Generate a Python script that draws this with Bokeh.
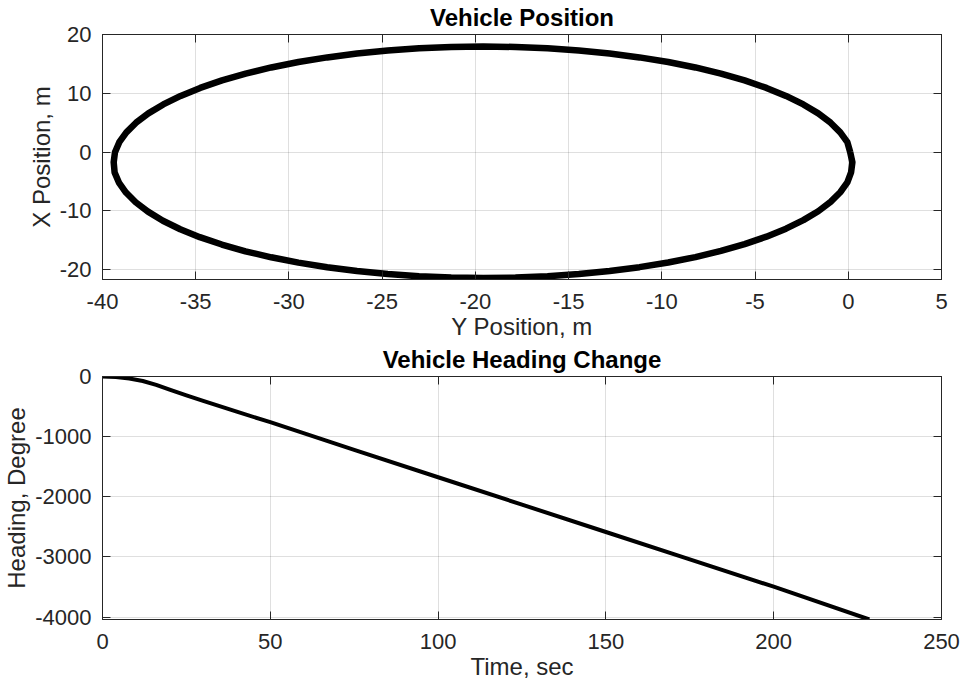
from bokeh.plotting import figure
from bokeh.layouts import column
from bokeh.models import (LinearAxis, SingleIntervalTicker, CustomJSTickFormatter, Range1d,
                          CustomLabelingPolicy)
from bokeh.embed import file_html
from bokeh.resources import INLINE

# Vehicle position: Y position (east, m) and X position (north, m)
pos_y = [0.1, -0.05, -0.43, -0.95, -1.61, -2.41, -3.34, -4.39, -5.56, -6.83, -8.2, -9.66,
         -11.2, -12.8, -14.45, -16.13, -17.85, -19.58, -21.3, -23.02, -24.7, -26.35,
         -27.95, -29.49, -30.95, -32.32, -33.59, -34.76, -35.81, -36.74, -37.54, -38.2,
         -38.72, -39.1, -39.33, -39.4, -39.35, -39.12, -38.74, -38.22, -37.56, -36.76,
         -35.83, -34.78, -33.6, -32.33, -30.95, -29.49, -27.95, -26.35, -24.7, -23.02,
         -21.3, -19.58, -17.85, -16.13, -14.45, -12.8, -11.2, -9.66, -8.2, -6.83, -5.56,
         -4.39, -3.34, -2.41, -1.61, -0.95, -0.43, -0.05, 0.15, 0.22, 0.1]
pos_x = [0.0, 1.67, 3.35, 4.99, 6.58, 8.1, 9.55, 10.91, 12.18, 13.34, 14.39, 15.31,
         16.1, 16.76, 17.28, 17.65, 17.88, 17.95, 17.88, 17.65, 17.28, 16.76, 16.1,
         15.31, 14.39, 13.34, 12.18, 10.91, 9.55, 8.1, 6.58, 4.99, 3.35, 1.67, -0.03,
         -1.75, -3.47, -5.2, -6.9, -8.55, -10.15, -11.7, -13.15, -14.5, -15.75, -16.9,
         -17.92, -18.83, -19.62, -20.27, -20.78, -21.15, -21.38, -21.45, -21.38, -21.15,
         -20.78, -20.26, -19.6, -18.81, -17.89, -16.84, -15.68, -14.41, -13.05, -11.6,
         -10.08, -8.49, -6.85, -5.17, -3.47, -1.75, 0.0]

# Vehicle heading change
time_s = [0, 4, 8, 12, 16, 20, 25, 30, 40, 50, 75, 100, 125, 150, 175, 200, 228.5]
heading_deg = [0, -8, -32, -75, -140, -220, -315, -405, -585, -760, -1220, -1675,
               -2130, -2585, -3040, -3495, -4040]

titles = ["Vehicle Position", "Vehicle Heading Change"]

FONT = "Liberation Sans"
AX = "#262626"

fmt = CustomJSTickFormatter(code="return Math.round(tick).toString();")
hide_all = "for (const i of indices) indices.unset(i); return indices"


def style(p, xint, yint, xlabel, ylabel, title):
    p.xaxis.ticker = SingleIntervalTicker(interval=xint)
    p.yaxis.ticker = SingleIntervalTicker(interval=yint)
    p.xaxis.axis_label = xlabel
    p.yaxis.axis_label = ylabel
    for ax in [p.xaxis[0], p.yaxis[0]]:
        ax.formatter = fmt
        ax.major_label_text_font = FONT
        ax.major_label_text_font_size = "22px"
        ax.major_label_text_color = AX
        ax.axis_label_text_font = FONT
        ax.axis_label_text_font_size = "24px"
        ax.axis_label_text_font_style = "normal"
        ax.axis_label_text_color = AX
        ax.axis_line_color = AX
        ax.major_tick_line_color = AX
        ax.major_tick_in = 8
        ax.major_tick_out = 0
        ax.minor_tick_line_color = None
    p.xaxis.major_label_standoff = 10
    p.xaxis.axis_label_standoff = 1
    p.yaxis.major_label_standoff = 7
    p.yaxis.axis_label_standoff = 2
    for loc, tick in (("above", xint), ("right", yint)):
        ax = LinearAxis(ticker=SingleIntervalTicker(interval=tick),
                        major_label_policy=CustomLabelingPolicy(code=hide_all),
                        major_label_text_font_size="0px",
                        major_label_standoff=0,
                        axis_line_color=AX, major_tick_line_color=AX,
                        major_tick_in=8, major_tick_out=0, minor_tick_line_color=None)
        p.add_layout(ax, loc)
    p.title.text = title
    p.title.text_font = FONT
    p.title.text_font_size = "24px"
    p.title.text_font_style = "bold"
    p.title.text_color = "black"
    p.title.align = "center"
    p.title.standoff = 0
    p.grid.grid_line_color = AX
    p.grid.grid_line_alpha = 0.15
    p.outline_line_color = AX
    p.background_fill_color = "white"
    p.border_fill_color = "white"


p1 = figure(width=961, height=343, output_backend="svg", toolbar_location=None,
            x_range=Range1d(-40, 5), y_range=Range1d(-21.7, 20),
            min_border_left=102, min_border_right=20, min_border_top=34, min_border_bottom=64)
p1.line(pos_y, pos_x, line_color="black", line_width=6.5, line_join="round")
style(p1, 5, 10, "Y Position, m", "X Position, m", titles[0])

p2 = figure(width=961, height=341, output_backend="svg", toolbar_location=None,
            x_range=Range1d(0, 250), y_range=Range1d(-4040, 0),
            min_border_left=102, min_border_right=20, min_border_top=31, min_border_bottom=65)
p2.line(time_s, heading_deg, line_color="black", line_width=4, line_join="round")
style(p2, 50, 1000, "Time, sec", "Heading, Degree", titles[1])

layout = column(p1, p2, spacing=0)
open("out.html", "w").write(file_html(layout, INLINE))
